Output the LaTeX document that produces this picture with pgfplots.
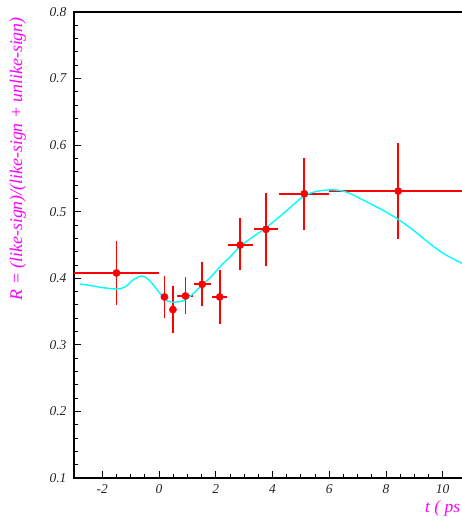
\documentclass[border=0pt]{standalone}
\usepackage{pgfplots}
\pgfplotsset{compat=1.18}
\usepackage{fontspec}
\setmainfont{Liberation Serif}
\definecolor{rootmag}{RGB}{255,0,255}
\definecolor{rootcyan}{RGB}{0,255,255}
\definecolor{rootred}{RGB}{255,0,0}
\begin{document}
\begin{tikzpicture}
\begin{axis}[
  scale only axis, width=403.3pt, height=466.6pt,
  xmin=-3, xmax=11.2, ymin=0.1, ymax=0.8,
  tick pos=left, tick align=inside,
  major tick length=7.5pt, minor tick length=4pt,
  xtick={-2,0,2,4,6,8,10}, xticklabels={-2,0,2,4,6,8,10},
  ytick={0.1,0.2,0.3,0.4,0.5,0.6,0.7,0.8},
  yticklabels={0.1,0.2,0.3,0.4,0.5,0.6,0.7,0.8},
  minor x tick num=3, minor y tick num=4,
  axis line style={line width=1.2pt, black},
  every tick/.style={black, line width=0.9pt},
  ticklabel style={font=\fontsize{13.5}{16}\selectfont\itshape, text=black!85},
  xticklabel style={yshift=-3pt},
  yticklabel style={xshift=-4pt},
  xlabel={t ( ps )},
  xlabel style={at={(rel axis cs:0.863,-0.064)}, anchor=west, font=\fontsize{17.5}{20}\selectfont\itshape, text=rootmag},
  ylabel={R = (like-sign)/(like-sign + unlike-sign)},
  ylabel style={at={(rel axis cs:-0.139,0.996)}, anchor=east, font=\fontsize{17.8}{20}\selectfont\itshape, text=rootmag},
  clip=true,
]
\addplot[rootred, line width=1.8pt, mark=*, mark size=3.6pt, mark options={fill=rootred, draw=rootred, line width=0.5pt},
  only marks,
  error bars/.cd, x dir=both, x explicit, y dir=both, y explicit,
  error mark=none, error bar style={line width=1.8pt, rootred}]
  coordinates {
  (-1.5,0.408) += (1.5,0.048) -= (1.5,0.048)
  (0.19,0.372) += (0.08,0.031) -= (0.08,0.032)
  (0.49,0.353) += (0.08,0.035) -= (0.08,0.035)
  (0.93,0.3735) += (0.28,0.028) -= (0.29,0.027)
  (1.52,0.391) += (0.30,0.033) -= (0.27,0.033)
  (2.14,0.372) += (0.26,0.040) -= (0.29,0.041)
  (2.86,0.450) += (0.46,0.040) -= (0.42,0.038)
  (3.77,0.4735) += (0.44,0.054) -= (0.42,0.055)
  (5.12,0.527) += (0.88,0.053) -= (0.88,0.054)
  (8.43,0.531) += (3.0,0.072) -= (2.43,0.072)
  };
\addplot[rootcyan, line width=1.4pt, smooth, tension=0.6, no marks] coordinates {
  (-2.8,0.3915) (-2.4,0.389) (-2.0,0.386) (-1.5,0.384) (-1.2,0.387)
  (-0.9,0.398) (-0.6,0.4035) (-0.4,0.399) (-0.2,0.39) (0.0,0.379)
  (0.15,0.3715) (0.3,0.366) (0.5,0.364) (0.7,0.365) (0.93,0.3675)
  (1.2,0.377) (1.52,0.39) (1.85,0.403) (2.15,0.4175) (2.5,0.432)
  (2.85,0.4475) (3.3,0.462) (3.77,0.476) (4.4,0.498) (4.8,0.513)
  (5.12,0.524) (5.5,0.530) (5.9,0.5325) (6.26,0.5325) (6.7,0.528)
  (7.31,0.515) (7.9,0.502) (8.43,0.4885) (9.0,0.471) (9.43,0.456)
  (10.0,0.438) (10.67,0.4225) (11.2,0.411)
};
\coordinate (bbsw) at (rel axis cs:-0.1835,-0.09);
\coordinate (bbne) at (rel axis cs:0.9626,1.0257);
\end{axis}
\pgfresetboundingbox
\useasboundingbox (bbsw) rectangle (bbne);
\end{tikzpicture}
\end{document}
